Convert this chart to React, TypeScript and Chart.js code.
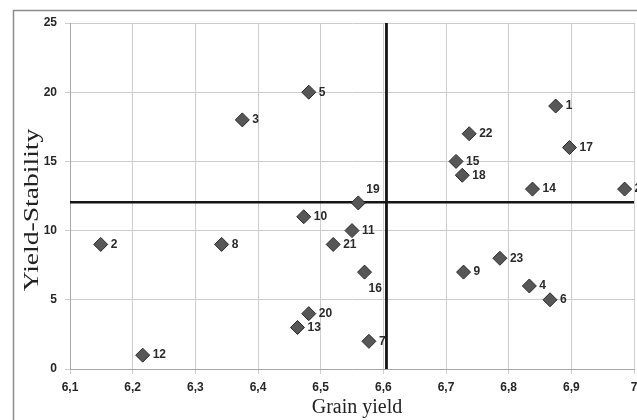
import React, { useEffect, useRef } from 'react';
import { Chart, registerables } from 'chart.js';

Chart.register(...registerables);

// ---- Data ----
const genotypes = ['1', '2', '3', '4', '5', '6', '7', '8', '9', '10', '11', '12', '13', '14', '15', '16', '17', '18', '19', '20', '21', '22', '23', '24'];
const grainYield = [6.875, 6.149, 6.375, 6.833, 6.481, 6.866, 6.577, 6.342, 6.728, 6.473, 6.55, 6.216, 6.463, 6.838, 6.716, 6.57, 6.897, 6.726, 6.56, 6.481, 6.52, 6.737, 6.786, 6.985];
const yieldStability = [19, 9, 18, 6, 20, 5, 2, 9, 7, 11, 10, 1, 3, 13, 15, 7, 16, 14, 12, 4, 9, 17, 8, 13];
const meanYield = 6.605;
const meanStability = 12.05;
const xRange = [6.1, 7.0];
const yRange = [0, 25];
const xStep = 0.1;
const yStep = 5;
const xTitle = 'Grain yield';
const yTitle = 'Yield-Stability';

const CW = 680;
const CH = 420;

const labelOffsets: Record<string, [number, number]> = {
  '19': [8, -13],
  '16': [4, 17],
};

const framePlugin = {
  id: 'frame',
  beforeDraw(chart: any) {
    const ctx = chart.ctx;
    ctx.save();
    ctx.fillStyle = '#ffffff';
    ctx.fillRect(0, 0, chart.width, chart.height);
    ctx.strokeStyle = '#8c8c8c';
    ctx.lineWidth = 1.5;
    ctx.strokeRect(13.5, 10.5, chart.width + 40, chart.height + 40);
    ctx.restore();
  },
};

const pointLabelPlugin = {
  id: 'pointLabels',
  afterDatasetsDraw(chart: any) {
    const ctx = chart.ctx;
    const meta = chart.getDatasetMeta(0);
    ctx.save();
    ctx.font = 'bold 12px "Liberation Sans", Arial, sans-serif';
    ctx.fillStyle = '#2a2a2a';
    ctx.textAlign = 'left';
    ctx.textBaseline = 'middle';
    meta.data.forEach((el: any, i: number) => {
      const { x, y } = el.getProps(['x', 'y'], true);
      const name = genotypes[i];
      const [dx, dy] = labelOffsets[name] || [10, 0];
      ctx.fillText(name, x + dx, y + dy);
    });
    ctx.restore();
  },
};

const titlePlugin = {
  id: 'axisTitles',
  afterDraw(chart: any) {
    const ctx = chart.ctx;
    const a = chart.chartArea;
    ctx.save();
    ctx.fillStyle = '#222222';
    ctx.font = '20px "Liberation Serif", "Times New Roman", serif';
    ctx.textAlign = 'center';
    ctx.textBaseline = 'middle';
    ctx.fillText(xTitle, (a.left + a.right) / 2 + 5, 408);
    ctx.translate(33, (a.top + a.bottom) / 2 + 14);
    ctx.rotate(-Math.PI / 2);
    ctx.scale(1.38, 1);
    ctx.fillText(yTitle, 0, 0);
    ctx.restore();
  },
};

const tickFont = { family: '"Liberation Sans", Arial, sans-serif', size: 12, weight: 'bold' as const };

export default function App() {
  const ref = useRef<HTMLCanvasElement>(null);

  useEffect(() => {
    document.body.style.margin = '0';
    const canvas = ref.current!;
    const points = grainYield.map((g, i) => ({ x: g, y: yieldStability[i] }));
    const chart = new Chart(canvas, {
      type: 'scatter',
      data: {
        datasets: [
          {
            data: points,
            pointStyle: 'rectRot',
            pointRadius: 7,
            backgroundColor: '#575757',
            borderColor: '#2b2b2b',
            borderWidth: 1,
            order: 0,
          },
          {
            data: [
              { x: meanYield, y: yRange[0] },
              { x: meanYield, y: yRange[1] },
            ],
            showLine: true,
            borderColor: '#151515',
            borderWidth: 2.8,
            pointRadius: 0,
            order: 2,
          },
          {
            data: [
              { x: xRange[0], y: meanStability },
              { x: xRange[1], y: meanStability },
            ],
            showLine: true,
            borderColor: '#151515',
            borderWidth: 2.5,
            pointRadius: 0,
            order: 2,
          },
        ],
      },
      options: {
        responsive: false,
        animation: false,
        devicePixelRatio: 1,
        layout: { padding: { top: 23, right: CW - 634, left: 0, bottom: 0 } },
        plugins: {
          legend: { display: false },
          tooltip: { enabled: false },
        },
        scales: {
          x: {
            type: 'linear',
            min: xRange[0],
            max: xRange[1],
            afterFit: (s: any) => {
              s.height = CH - 369;
            },
            ticks: {
              stepSize: xStep,
              font: tickFont,
              color: '#262626',
              padding: 6,
              callback: (v: any) => {
                const n = Number(v);
                if (Math.abs(n - Math.round(n)) < 1e-9) return String(Math.round(n));
                return n.toFixed(1).replace('.', ',');
              },
            },
            grid: { color: '#cdcdcd', lineWidth: 1, tickLength: 5, drawTicks: true },
            border: { display: true, color: '#a8a8a8' },
          },
          y: {
            type: 'linear',
            min: yRange[0],
            max: yRange[1],
            afterFit: (s: any) => {
              s.width = 70;
            },
            ticks: {
              stepSize: yStep,
              font: tickFont,
              color: '#262626',
              padding: 8,
            },
            grid: { color: '#cdcdcd', lineWidth: 1, tickLength: 5, drawTicks: true },
            border: { display: true, color: '#a8a8a8' },
          },
        },
      },
      plugins: [framePlugin, pointLabelPlugin, titlePlugin],
    } as any);
    return () => chart.destroy();
  }, []);

  return (
    <div style={{ position: 'relative', width: 637, height: 420, overflow: 'hidden', background: '#fff' }}>
      <canvas ref={ref} width={CW} height={CH} style={{ display: 'block', width: CW, height: CH }} />
    </div>
  );
}
